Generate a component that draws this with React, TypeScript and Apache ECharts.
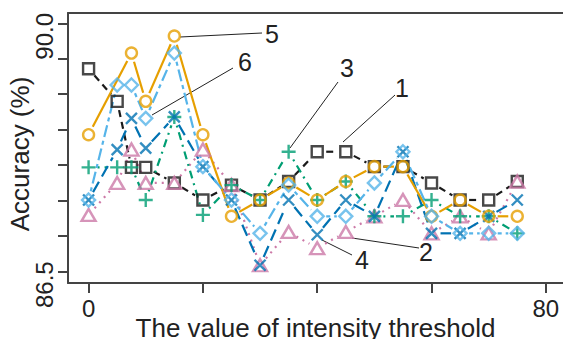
import React, { useEffect, useRef } from "react";
import * as echarts from "echarts";

const thresholds = [0, 5, 7.5, 10, 15, 20, 25, 30, 35, 40, 45, 50, 55, 60, 65, 70, 75];
const method1 = [89.36, 88.9, 87.97, 87.97, 87.75, 87.51, 87.72, 87.51, 87.77, 88.19, 88.19, 87.98, 87.98, 87.75, 87.51, 87.51, 87.77];
const method2 = [87.3, 87.75, 88.22, 87.75, 87.75, 88.22, 87.72, 86.59, 87.06, 86.83, 87.06, 87.28, 87.51, 87.04, 87.28, 87.04, 87.77];
const method3 = [87.97, 87.97, 87.97, 87.51, 88.68, 87.3, 87.72, 87.51, 88.19, 87.51, 87.77, 87.28, 87.28, 87.51, 87.28, 87.28, 87.04];
const method4 = [87.51, 88.22, 88.66, 88.24, 88.68, 87.98, 87.51, 86.59, 87.51, 87.02, 87.51, 87.28, 88.19, 87.04, 87.04, 87.28, 87.51];
const method5 = [88.43, null, 89.58, 88.9, 89.82, 88.43, 87.28, 87.51, 87.75, 87.51, 87.77, 87.98, 87.98, 87.28, 87.51, 87.28, 87.28];
const method6 = [87.51, 89.13, 89.13, 88.66, 89.58, 87.98, 87.51, 87.04, 87.72, 87.28, 87.28, 87.75, 88.19, 87.28, 87.04, 87.04, 87.04];

const methodValues = [method1, method2, method3, method4, method5, method6];
const methodLabels = ["1", "2", "3", "4", "5", "6"];
const xTickValues = [0, 20, 40, 60, 80];
const xTickLabels = [0, 80];
const yTickValues = [86.5, 87, 87.5, 88, 88.5, 89, 89.5, 90];
const yTickLabels = [86.5, 90];
const xTitle = "The value of intensity threshold";
const yTitle = "Accuracy (%)";

const FONT = '"Liberation Sans", Arial, Helvetica, sans-serif';
const AXIS = "#444";
const TEXT = "#222";
const COLORS = ["#1a1a1a", "#CC79A7", "#009E73", "#0072B2", "#E69F00", "#56B4E9"];
const DASHES: (number[] | null)[] = [[7, 5], [2, 5], [2, 5, 8, 5], [12, 6], null, [4, 4, 12, 4]];
const SYMBOLS = [
  "rect",
  "triangle",
  "path://M0,7H14M7,0V14",
  "path://M0,0L10,10M10,0L0,10",
  "circle",
  "diamond",
];
const SIZES: any[] = [11, [14, 12], 14, 11, 11, 13];
const GAP = 9;

// annotation layout: [textX, textY, lineX1, lineY1, lineX2, lineY2]
const ANNOT: number[][] = [
  [402, 88, 343, 142, 395, 95],
  [426, 252, 352, 238, 419, 248],
  [347, 68, 290, 148, 338, 82],
  [362, 260, 322, 240, 352, 255],
  [272, 34, 180, 37, 262, 33],
  [245, 62, 152, 115, 233, 68],
];

function pointsOf(vals: (number | null)[]) {
  return thresholds
    .map((t, i) => [t, vals[i]])
    .filter((p) => p[1] !== null && p[1] !== undefined) as number[][];
}

function segmentsOf(vals: (number | null)[]) {
  const pts = pointsOf(vals);
  const segs: number[][] = [];
  for (let i = 0; i < pts.length - 1; i++) {
    segs.push([pts[i][0], pts[i][1], pts[i + 1][0], pts[i + 1][1]]);
  }
  return segs;
}

export default function App() {
  const ref = useRef<HTMLDivElement>(null);

  useEffect(() => {
    if (!ref.current) return;
    const chart = echarts.init(ref.current, undefined, { renderer: "svg" });

    const series: any[] = [];
    methodValues.forEach((vals, k) => {
      const color = COLORS[k];
      const dash = DASHES[k];
      series.push({
        type: "custom",
        silent: true,
        clip: false,
        data: segmentsOf(vals),
        encode: { x: [0, 2], y: [1, 3] },
        renderItem: (params: any, api: any) => {
          const p1 = api.coord([api.value(0), api.value(1)]);
          const p2 = api.coord([api.value(2), api.value(3)]);
          const dx = p2[0] - p1[0];
          const dy = p2[1] - p1[1];
          const len = Math.hypot(dx, dy);
          if (len <= 2 * GAP + 1) return null;
          const ux = dx / len;
          const uy = dy / len;
          return {
            type: "line",
            shape: {
              x1: p1[0] + ux * GAP,
              y1: p1[1] + uy * GAP,
              x2: p2[0] - ux * GAP,
              y2: p2[1] - uy * GAP,
            },
            style: {
              stroke: color,
              lineWidth: 2.2,
              lineDash: dash || undefined,
              fill: "none",
            },
          };
        },
      });
      series.push({
        type: "scatter",
        name: methodLabels[k],
        data: pointsOf(vals),
        symbol: SYMBOLS[k],
        symbolSize: SIZES[k],
        itemStyle: { color: "none", borderColor: color, borderWidth: 2.4 },
        emphasis: { disabled: true },
        silent: true,
      });
    });

    const graphics: any[] = [];
    ANNOT.forEach((a, k) => {
      graphics.push({
        type: "line",
        shape: { x1: a[2], y1: a[3], x2: a[4], y2: a[5] },
        style: { stroke: TEXT, lineWidth: 1 },
        silent: true,
      });
      graphics.push({
        type: "text",
        x: a[0],
        y: a[1],
        style: {
          text: methodLabels[k],
          fill: TEXT,
          font: `25px ${FONT}`,
          textAlign: "center",
          textVerticalAlign: "middle",
        },
        silent: true,
      });
    });

    chart.setOption({
      animation: false,
      backgroundColor: "#ffffff",
      grid: { left: 68, top: 13, right: 0, bottom: 56, containLabel: false, outerBoundsMode: "none" },
      xAxis: [
        {
          type: "value",
          min: -3.6,
          max: 83,
          axisLine: { show: true, onZero: false, lineStyle: { color: AXIS, width: 2 } },
          axisTick: { show: true, customValues: xTickValues, length: 10, lineStyle: { color: AXIS, width: 2 } },
          axisLabel: {
            show: true,
            customValues: xTickLabels,
            margin: 13,
            fontSize: 24,
            color: TEXT,
            fontFamily: FONT,
          },
          splitLine: { show: false },
          name: xTitle,
          nameLocation: "middle",
          nameGap: 32,
          nameMoveOverlap: false,
          nameTextStyle: { fontSize: 26, color: TEXT, fontFamily: FONT },
        },
        {
          type: "value",
          position: "top",
          min: -3.6,
          max: 83,
          axisLine: { show: true, onZero: false, lineStyle: { color: AXIS, width: 2 } },
          axisTick: { show: false },
          axisLabel: { show: false },
          splitLine: { show: false },
        },
      ],
      yAxis: {
        type: "value",
        min: 86.34,
        max: 90.145,
        axisLine: { show: true, onZero: false, lineStyle: { color: AXIS, width: 2 } },
        axisTick: { show: true, customValues: yTickValues, length: 10, lineStyle: { color: AXIS, width: 2 } },
        axisLabel: {
          show: true,
          customValues: yTickLabels,
          rotate: 90,
          margin: 12,
          fontSize: 24,
          color: TEXT,
          fontFamily: FONT,
          padding: [0, 26, 0, 0],
          formatter: (v: number) => v.toFixed(1),
        },
        splitLine: { show: false },
        name: yTitle,
        nameLocation: "middle",
        nameGap: 35,
        nameMoveOverlap: false,
        nameTextStyle: { fontSize: 26, color: TEXT, fontFamily: FONT, padding: [0, 12, 0, 0] },
      },
      series,
      graphic: graphics,
    });

    return () => chart.dispose();
  }, []);

  return (
    <div
      ref={ref}
      style={{ position: "fixed", left: 0, top: 0, width: 563, height: 339, background: "#fff" }}
    />
  );
}
